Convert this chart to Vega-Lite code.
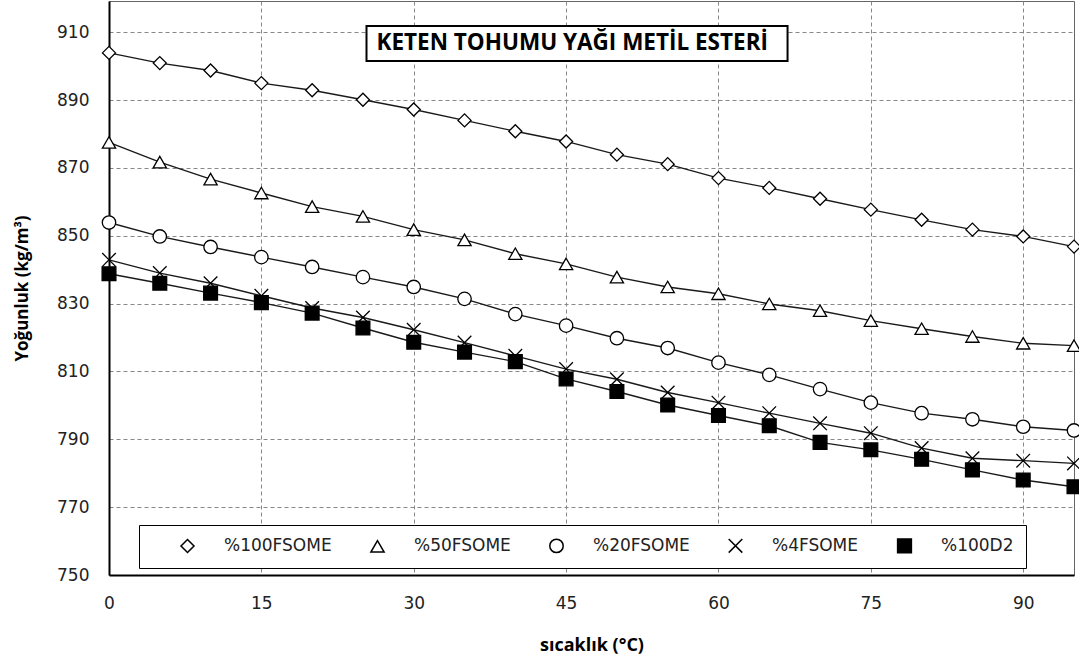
{
  "$schema": "https://vega.github.io/schema/vega-lite/v6.json",
  "width": 965,
  "height": 574,
  "autosize": {"type": "none"},
  "padding": {"left": 109, "top": 1, "right": 5, "bottom": 91},
  "background": "white",
  "config": {"view": {"stroke": "#666", "strokeWidth": 1}},
  "datasets": {
    "main": [
      {"t": 0, "s": "%100FSOME", "v": 903.9}, {"t": 5, "s": "%100FSOME", "v": 900.9}, {"t": 10, "s": "%100FSOME", "v": 898.7}, {"t": 15, "s": "%100FSOME", "v": 895.0}, {"t": 20, "s": "%100FSOME", "v": 892.9},
      {"t": 25, "s": "%100FSOME", "v": 890.1}, {"t": 30, "s": "%100FSOME", "v": 887.2}, {"t": 35, "s": "%100FSOME", "v": 884.0}, {"t": 40, "s": "%100FSOME", "v": 880.8}, {"t": 45, "s": "%100FSOME", "v": 877.8},
      {"t": 50, "s": "%100FSOME", "v": 873.9}, {"t": 55, "s": "%100FSOME", "v": 871.1}, {"t": 60, "s": "%100FSOME", "v": 867.0}, {"t": 65, "s": "%100FSOME", "v": 864.1}, {"t": 70, "s": "%100FSOME", "v": 860.9},
      {"t": 75, "s": "%100FSOME", "v": 857.7}, {"t": 80, "s": "%100FSOME", "v": 854.7}, {"t": 85, "s": "%100FSOME", "v": 851.8}, {"t": 90, "s": "%100FSOME", "v": 849.8}, {"t": 95, "s": "%100FSOME", "v": 846.8},
      {"t": 0, "s": "%50FSOME", "v": 877.5}, {"t": 5, "s": "%50FSOME", "v": 871.7}, {"t": 10, "s": "%50FSOME", "v": 866.7}, {"t": 15, "s": "%50FSOME", "v": 862.6}, {"t": 20, "s": "%50FSOME", "v": 858.6},
      {"t": 25, "s": "%50FSOME", "v": 855.7}, {"t": 30, "s": "%50FSOME", "v": 851.8}, {"t": 35, "s": "%50FSOME", "v": 848.8}, {"t": 40, "s": "%50FSOME", "v": 844.7}, {"t": 45, "s": "%50FSOME", "v": 841.7},
      {"t": 50, "s": "%50FSOME", "v": 837.8}, {"t": 55, "s": "%50FSOME", "v": 834.9}, {"t": 60, "s": "%50FSOME", "v": 832.9}, {"t": 65, "s": "%50FSOME", "v": 829.9}, {"t": 70, "s": "%50FSOME", "v": 827.9},
      {"t": 75, "s": "%50FSOME", "v": 825.0}, {"t": 80, "s": "%50FSOME", "v": 822.6}, {"t": 85, "s": "%50FSOME", "v": 820.3}, {"t": 90, "s": "%50FSOME", "v": 818.3}, {"t": 95, "s": "%50FSOME", "v": 817.6},
      {"t": 0, "s": "%20FSOME", "v": 853.9}, {"t": 5, "s": "%20FSOME", "v": 849.8}, {"t": 10, "s": "%20FSOME", "v": 846.7}, {"t": 15, "s": "%20FSOME", "v": 843.7}, {"t": 20, "s": "%20FSOME", "v": 840.8},
      {"t": 25, "s": "%20FSOME", "v": 837.8}, {"t": 30, "s": "%20FSOME", "v": 834.9}, {"t": 35, "s": "%20FSOME", "v": 831.4}, {"t": 40, "s": "%20FSOME", "v": 826.9}, {"t": 45, "s": "%20FSOME", "v": 823.5},
      {"t": 50, "s": "%20FSOME", "v": 819.8}, {"t": 55, "s": "%20FSOME", "v": 816.9}, {"t": 60, "s": "%20FSOME", "v": 812.6}, {"t": 65, "s": "%20FSOME", "v": 809.0}, {"t": 70, "s": "%20FSOME", "v": 804.8},
      {"t": 75, "s": "%20FSOME", "v": 800.8}, {"t": 80, "s": "%20FSOME", "v": 797.7}, {"t": 85, "s": "%20FSOME", "v": 795.9}, {"t": 90, "s": "%20FSOME", "v": 793.7}, {"t": 95, "s": "%20FSOME", "v": 792.6},
      {"t": 0, "s": "%4FSOME", "v": 842.9}, {"t": 5, "s": "%4FSOME", "v": 839.0}, {"t": 10, "s": "%4FSOME", "v": 836.0}, {"t": 15, "s": "%4FSOME", "v": 832.3}, {"t": 20, "s": "%4FSOME", "v": 828.7},
      {"t": 25, "s": "%4FSOME", "v": 825.9}, {"t": 30, "s": "%4FSOME", "v": 822.3}, {"t": 35, "s": "%4FSOME", "v": 818.5}, {"t": 40, "s": "%4FSOME", "v": 814.6}, {"t": 45, "s": "%4FSOME", "v": 810.7},
      {"t": 50, "s": "%4FSOME", "v": 807.7}, {"t": 55, "s": "%4FSOME", "v": 803.8}, {"t": 60, "s": "%4FSOME", "v": 800.8}, {"t": 65, "s": "%4FSOME", "v": 797.7}, {"t": 70, "s": "%4FSOME", "v": 794.7},
      {"t": 75, "s": "%4FSOME", "v": 791.8}, {"t": 80, "s": "%4FSOME", "v": 787.4}, {"t": 85, "s": "%4FSOME", "v": 784.4}, {"t": 90, "s": "%4FSOME", "v": 783.7}, {"t": 95, "s": "%4FSOME", "v": 782.9},
      {"t": 0, "s": "%100D2", "v": 838.8}, {"t": 5, "s": "%100D2", "v": 836.0}, {"t": 10, "s": "%100D2", "v": 833.1}, {"t": 15, "s": "%100D2", "v": 830.3}, {"t": 20, "s": "%100D2", "v": 827.2},
      {"t": 25, "s": "%100D2", "v": 822.8}, {"t": 30, "s": "%100D2", "v": 818.6}, {"t": 35, "s": "%100D2", "v": 815.7}, {"t": 40, "s": "%100D2", "v": 812.9}, {"t": 45, "s": "%100D2", "v": 807.8},
      {"t": 50, "s": "%100D2", "v": 804.1}, {"t": 55, "s": "%100D2", "v": 800.1}, {"t": 60, "s": "%100D2", "v": 797.0}, {"t": 65, "s": "%100D2", "v": 794.0}, {"t": 70, "s": "%100D2", "v": 789.1},
      {"t": 75, "s": "%100D2", "v": 786.9}, {"t": 80, "s": "%100D2", "v": 784.1}, {"t": 85, "s": "%100D2", "v": 781.0}, {"t": 90, "s": "%100D2", "v": 778.0}, {"t": 95, "s": "%100D2", "v": 776.0}
    ]
  },
  "layer": [
    {
      "data": {"name": "main"},
      "mark": {"type": "line", "color": "#1a1a1a", "strokeWidth": 1.4},
      "encoding": {
        "x": {
          "field": "t", "type": "quantitative",
          "scale": {"domain": [0, 95], "nice": false, "zero": false},
          "axis": {
            "values": [0, 15, 30, 45, 60, 75, 90],
            "title": "sıcaklık (°C)",
            "titleFont": "Open Sans", "titleFontWeight": "bold", "titleFontSize": 18, "titleColor": "#000",
            "titleX": 482.5, "titleY": 70, "titleBaseline": "middle", "titleAlign": "center",
            "labelFont": "DejaVu Sans", "labelFontSize": 17, "labelColor": "#222", "labelPadding": 20, "labelFlush": false,
            "ticks": false, "domainColor": "#000", "domainWidth": 2,
            "grid": true, "gridColor": "#888", "gridDash": [4, 3], "gridWidth": 1
          }
        },
        "y": {
          "field": "v", "type": "quantitative",
          "scale": {"domain": [750, 919.2], "nice": false, "zero": false},
          "axis": {
            "values": [750, 770, 790, 810, 830, 850, 870, 890, 910],
            "title": "Yoğunluk (kg/m³)",
            "titleFont": "Open Sans", "titleFontWeight": "bold", "titleFontSize": 17, "titleColor": "#000",
            "titleX": -87, "titleY": 287, "titleBaseline": "middle", "titleAlign": "center", "titleAngle": -90,
            "labelFont": "DejaVu Sans", "labelFontSize": 17, "labelColor": "#222", "labelPadding": 20, "labelFlush": false,
            "ticks": false, "domainColor": "#000", "domainWidth": 2,
            "grid": true, "gridColor": "#888", "gridDash": [4, 3], "gridWidth": 1
          }
        },
        "detail": {"field": "s"}
      }
    },
    {
      "data": {"name": "main"},
      "mark": {"type": "point", "filled": true, "stroke": "#000", "strokeWidth": 1.3, "opacity": 1},
      "encoding": {
        "x": {"field": "t", "type": "quantitative"},
        "y": {"field": "v", "type": "quantitative"},
        "shape": {
          "field": "s", "type": "nominal",
          "scale": {
            "domain": ["%100FSOME", "%50FSOME", "%20FSOME", "%4FSOME", "%100D2"],
            "range": ["diamond", "triangle-up", "circle", "M-1,-1L1,1M-1,1L1,-1", "square"]
          },
          "legend": {
            "title": null, "orient": "none", "legendX": 30, "legendY": 524,
            "direction": "horizontal", "columns": 5,
            "fillColor": "white", "strokeColor": "#000", "padding": 12,
            "labelFont": "DejaVu Sans", "labelFontSize": 17, "labelColor": "#222",
            "symbolSize": 169, "labelOffset": 28, "columnPadding": 9, "symbolOffset": 28
          }
        },
        "fill": {
          "field": "s", "type": "nominal",
          "scale": {
            "domain": ["%100FSOME", "%50FSOME", "%20FSOME", "%4FSOME", "%100D2"],
            "range": ["#fff", "#fff", "#fff", "#fff", "#000"]
          }
        },
        "size": {
          "field": "s", "type": "nominal",
          "scale": {
            "domain": ["%100FSOME", "%50FSOME", "%20FSOME", "%4FSOME", "%100D2"],
            "range": [170, 190, 170, 150, 125]
          }
        }
      }
    },
    {
      "data": {"values": [{}]},
      "mark": {"type": "rect", "fill": "white", "stroke": "#000", "strokeWidth": 2},
      "encoding": {
        "x": {"datum": 25.35, "type": "quantitative"},
        "x2": {"datum": 66.8},
        "y": {"datum": 911.8, "type": "quantitative"},
        "y2": {"datum": 901.5}
      }
    },
    {
      "data": {"values": [{}]},
      "mark": {"type": "text", "text": "KETEN TOHUMU YAĞI METİL ESTERİ", "font": "Open Sans", "fontWeight": "bold", "fontSize": 22.5, "align": "center", "baseline": "middle", "color": "#000"},
      "encoding": {
        "x": {"datum": 45.6, "type": "quantitative"},
        "y": {"datum": 906.7, "type": "quantitative"}
      }
    }
  ]
}
